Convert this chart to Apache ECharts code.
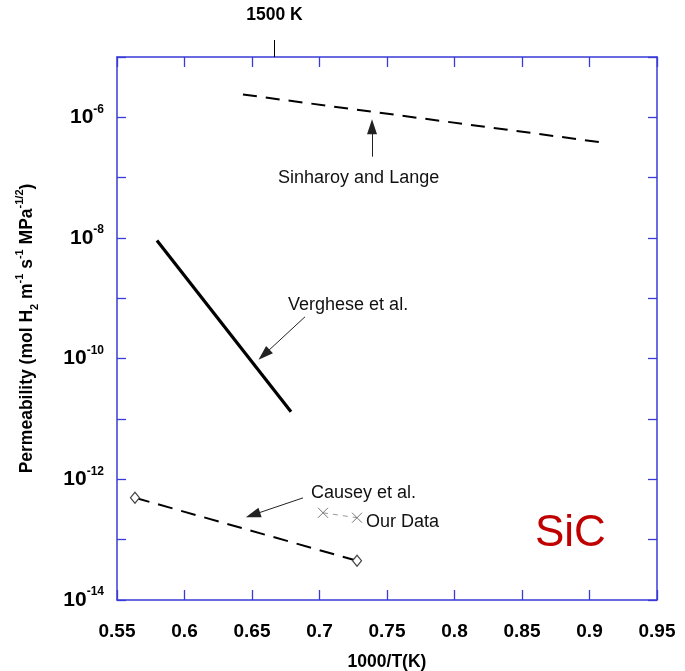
<!DOCTYPE html>
<html>
<head>
<meta charset="utf-8">
<script src="https://cdn.jsdelivr.net/npm/echarts@6/dist/echarts.min.js"></script>
<style>
html,body{margin:0;padding:0;background:#fff;}
#c{width:685px;height:671px;}
</style>
</head>
<body>
<div id="c"></div>
<script>
// ---- data ----
const xTicks = [0.55, 0.6, 0.65, 0.7, 0.75, 0.8, 0.85, 0.9, 0.95];
const topMarkerX = [1000 / 1500];
const topMarkerLabel = ['1500 K'];
const sinharoy = [[0.6433, 2.39e-6], [0.91, 3.82e-7]];
const verghese = [[0.5796, 9.06e-9], [0.6789, 1.32e-11]];
const causey = [[0.5633, 4.95e-13], [0.7278, 4.47e-14]];
const ourData = [[0.7026, 2.79e-13], [0.7278, 2.31e-13]];
const arrows = [
  [[0.7389, 2.23e-7], [0.7389, 7.01e-7]],
  [[0.6893, 4.95e-10], [0.6589, 1.16e-10]],
  [[0.6878, 4.93e-13], [0.6507, 2.58e-13]]
];
const annotations = [
  {name: 'Sinharoy and Lange', value: [0.6693, 1.0e-7]},
  {name: 'Verghese et al.', value: [0.6767, 7.83e-10]},
  {name: 'Causey et al.', value: [0.6937, 5.97e-13]},
  {name: 'Our Data', value: [0.7344, 1.97e-13]}
];
const materialLabel = {name: 'SiC', value: [0.8596, 1.25e-13]};

// ---- chart ----
const AX = '#3a3ad8';
const FONT = '"Liberation Sans", Arial, sans-serif';
const chart = echarts.init(document.getElementById('c'), null, {renderer: 'canvas'});

const yLabelFmt = function (v) {
  const e = Math.round(Math.log10(v));
  if (e % 2 !== 0) return '';
  return '{b|10}{s|' + e + '}';
};

const option = {
  animation: false,
  backgroundColor: '#fff',
  grid: {left: 117, right: 28, top: 57, bottom: 71, containLabel: false, outerBoundsMode: 'none'},
  xAxis: [
    {
      type: 'value', position: 'bottom', min: 0.55, max: 0.95, interval: 0.05,
      name: '1000/T(K)', nameLocation: 'middle', nameGap: 53, nameMoveOverlap: false,
      nameTextStyle: {fontFamily: FONT, fontWeight: 'bold', fontSize: 17.5, color: '#000'},
      axisLine: {show: true, onZero: false, lineStyle: {color: AX, width: 1.5}},
      axisTick: {show: true, inside: true, length: 10, lineStyle: {color: AX, width: 1.3}},
      axisLabel: {margin: 22, fontFamily: FONT, fontWeight: 'bold', fontSize: 19, color: '#000',
        formatter: v => String(+v.toFixed(2))},
      splitLine: {show: false}
    },
    {
      type: 'value', position: 'top', min: 0.55, max: 0.95, interval: 0.05,
      axisLine: {show: true, onZero: false, lineStyle: {color: AX, width: 1.5}},
      axisTick: {show: true, inside: true, length: 10, lineStyle: {color: AX, width: 1.3}},
      axisLabel: {show: false}, splitLine: {show: false}
    },
    {
      type: 'value', position: 'top', min: 0.55, max: 0.95,
      axisLine: {show: false},
      axisTick: {show: true, inside: false, length: 17, customValues: topMarkerX,
        lineStyle: {color: '#000', width: 1}},
      axisLabel: {show: true, customValues: topMarkerX, margin: 33,
        fontFamily: FONT, fontWeight: 'bold', fontSize: 17.5, color: '#000',
        formatter: () => topMarkerLabel[0]},
      splitLine: {show: false}
    }
  ],
  yAxis: [
    {
      type: 'log', logBase: 10, position: 'left', min: 1e-14, max: 1e-5, splitNumber: 9,
      name: '{n|Permeability (mol H}{sub|2}{n| m}{sup|-1}{n| s}{sup|-1}{n| MPa}{sup|-1/2}{n|)}',
      nameLocation: 'middle', nameRotate: 90, nameGap: 77, nameMoveOverlap: false,
      nameTextStyle: {
        rich: {
          n: {fontFamily: FONT, fontWeight: 'bold', fontSize: 17.5, color: '#000', lineHeight: 26},
          sub: {fontFamily: FONT, fontWeight: 'bold', fontSize: 11, color: '#000', verticalAlign: 'bottom', lineHeight: 26},
          sup: {fontFamily: FONT, fontWeight: 'bold', fontSize: 11, color: '#000', verticalAlign: 'top', lineHeight: 26}
        }
      },
      axisLine: {show: true, onZero: false, lineStyle: {color: AX, width: 1.5}},
      axisTick: {show: true, inside: true, length: 9, lineStyle: {color: AX, width: 1.3}},
      minorTick: {show: false},
      axisLabel: {
        margin: 13, formatter: yLabelFmt,
        rich: {
          b: {fontFamily: FONT, fontWeight: 'bold', fontSize: 21, color: '#000', lineHeight: 28},
          s: {fontFamily: FONT, fontWeight: 'bold', fontSize: 12, color: '#000', verticalAlign: 'top', lineHeight: 28}
        }
      },
      splitLine: {show: false}
    },
    {
      type: 'log', logBase: 10, position: 'right', min: 1e-14, max: 1e-5, splitNumber: 9,
      axisLine: {show: true, onZero: false, lineStyle: {color: AX, width: 1.5}},
      axisTick: {show: true, inside: true, length: 9, lineStyle: {color: AX, width: 1.3}},
      axisLabel: {show: false}, splitLine: {show: false}
    }
  ],
  series: [
    {
      name: 'Sinharoy and Lange', type: 'line', xAxisIndex: 0, yAxisIndex: 0,
      data: sinharoy, showSymbol: false, symbol: 'none',
      lineStyle: {color: '#000', width: 2, type: [14, 9]}
    },
    {
      name: 'Verghese et al.', type: 'line', xAxisIndex: 0, yAxisIndex: 0,
      data: verghese, showSymbol: false, symbol: 'none',
      lineStyle: {color: '#000', width: 3.2}
    },
    {
      name: 'Causey et al.', type: 'line', xAxisIndex: 0, yAxisIndex: 0,
      data: causey, showSymbol: true, symbol: 'diamond', symbolSize: [9, 11],
      itemStyle: {color: '#fff', borderColor: '#444', borderWidth: 1.2},
      lineStyle: {color: '#000', width: 2, type: [15, 9]}
    },
    {
      name: 'Our Data', type: 'line', xAxisIndex: 0, yAxisIndex: 0,
      data: ourData, showSymbol: true, symbol: 'path://M0,0L10,10M10,0L0,10', symbolSize: 10,
      itemStyle: {color: 'none', borderColor: '#777', borderWidth: 1},
      lineStyle: {color: '#999', width: 1, type: [5, 5]}
    },
    {
      name: 'arrows', type: 'line', xAxisIndex: 0, yAxisIndex: 0, data: [],
      markLine: {
        silent: true, animation: false, label: {show: false},
        lineStyle: {color: '#222', width: 1, type: 'solid'},
        symbolSize: [10, 15],
        itemStyle: {color: '#000'},
        data: arrows.map(a => [
          {coord: a[0], symbol: 'none'},
          {coord: a[1], symbol: 'triangle'}
        ])
      }
    },
    {
      name: 'labels', type: 'scatter', xAxisIndex: 0, yAxisIndex: 0,
      data: annotations, symbolSize: 0, silent: true,
      itemStyle: {opacity: 1},
      label: {show: true, position: 'right', distance: 0, formatter: p => p.name,
        fontFamily: FONT, fontSize: 18, color: '#111', opacity: 1}
    },
    {
      name: 'material', type: 'scatter', xAxisIndex: 0, yAxisIndex: 0,
      data: [materialLabel], symbolSize: 0, silent: true,
      itemStyle: {opacity: 1},
      label: {show: true, position: 'right', distance: 0, formatter: p => p.name,
        fontFamily: FONT, fontSize: 44, color: '#c00000', opacity: 1}
    }
  ]
};
chart.setOption(option);
</script>
</body>
</html>
